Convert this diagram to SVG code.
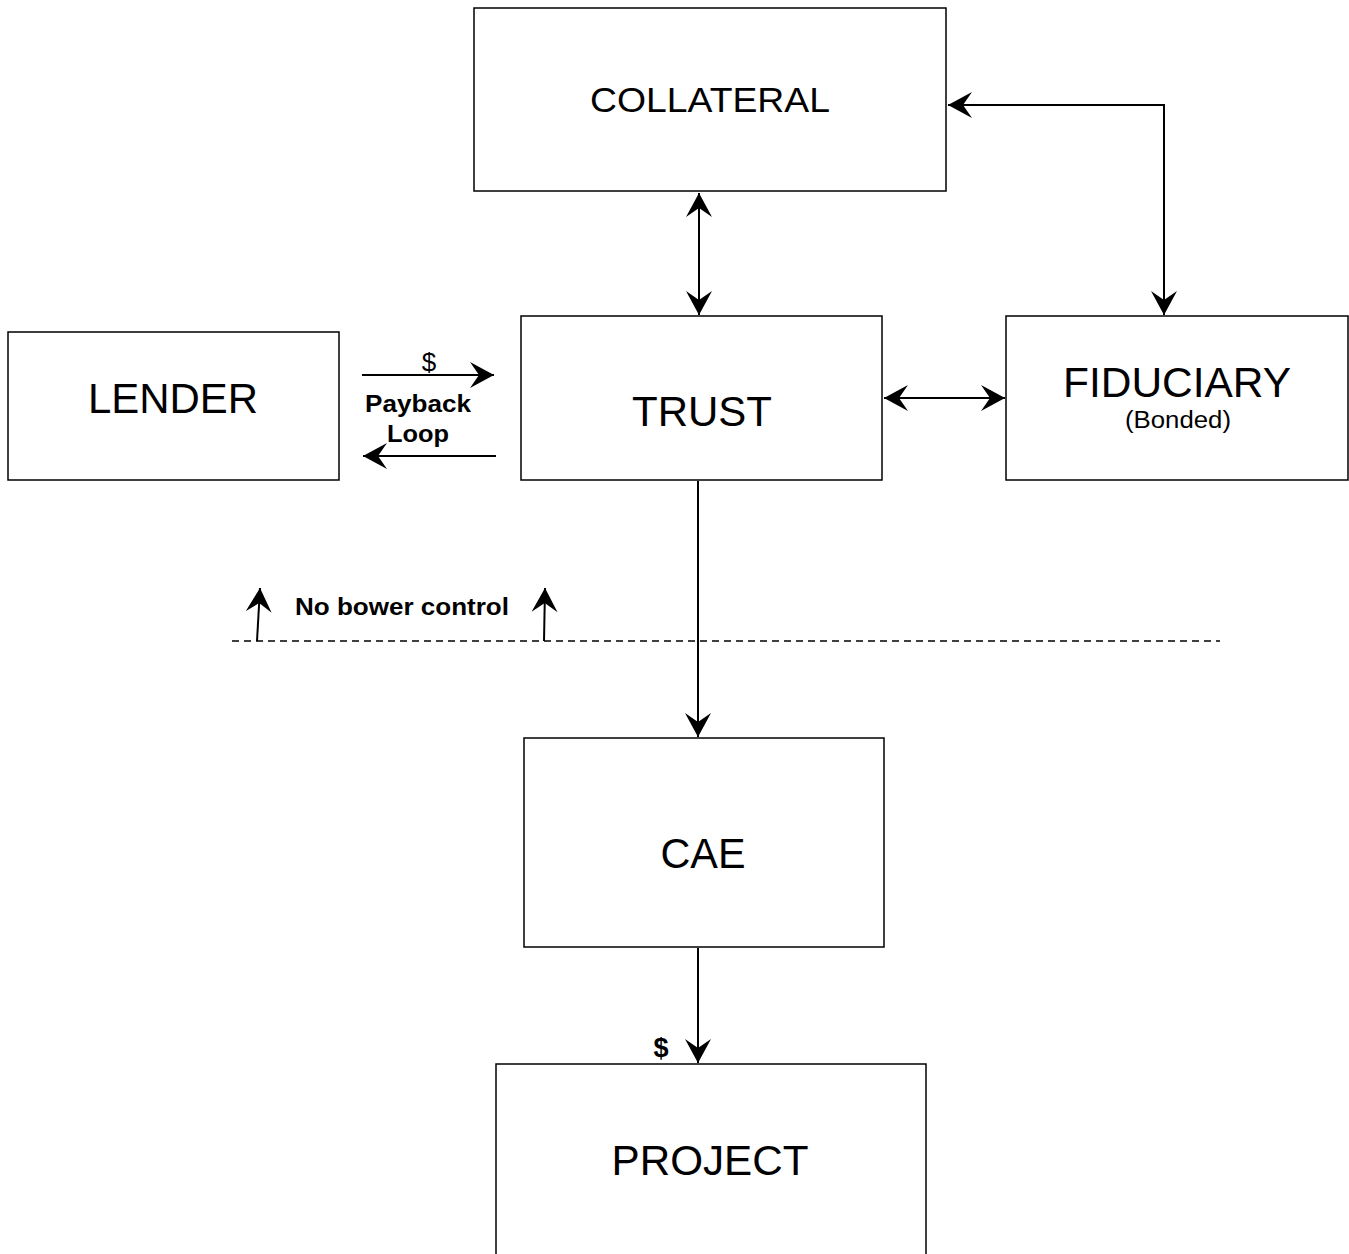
<svg xmlns="http://www.w3.org/2000/svg" width="1349" height="1254" viewBox="0 0 1349 1254">
<style>
.box{fill:#fff;stroke:#000;stroke-width:1.5}
.lbl{font-family:"Liberation Sans",Arial,sans-serif;fill:#000;text-anchor:middle}
.c{fill:none;stroke:#000;stroke-width:2}
.b{font-weight:bold}
</style>
<defs>
<marker id="ah" viewBox="0 0 24 26" refX="24" refY="13" markerWidth="24" markerHeight="26" markerUnits="userSpaceOnUse" orient="auto-start-reverse">
<path d="M0,0 L24,13 L0,26 L9,13 Z" fill="#000"/>
</marker>
</defs>
<rect width="1349" height="1254" fill="#fff"/>
<g id="collateral"><rect class="box" x="474" y="8" width="472" height="183"/><text class="lbl" x="710" y="112" font-size="35" textLength="240" lengthAdjust="spacingAndGlyphs">COLLATERAL</text></g>
<g id="trust"><rect class="box" x="521" y="316" width="361" height="164"/><text class="lbl" x="702" y="426" font-size="43" textLength="140" lengthAdjust="spacingAndGlyphs">TRUST</text></g>
<g id="lender"><rect class="box" x="8" y="332" width="331" height="148"/><text class="lbl" x="173" y="413" font-size="42" textLength="170" lengthAdjust="spacingAndGlyphs">LENDER</text></g>
<g id="fiduciary"><rect class="box" x="1006" y="316" width="342" height="164"/><text class="lbl" x="1177" y="397" font-size="42" textLength="228" lengthAdjust="spacingAndGlyphs">FIDUCIARY</text><text class="lbl" x="1178" y="428" font-size="23" textLength="106" lengthAdjust="spacingAndGlyphs">(Bonded)</text></g>
<g id="cae"><rect class="box" x="524" y="738" width="360" height="209"/><text class="lbl" x="703" y="868" font-size="42" textLength="85" lengthAdjust="spacingAndGlyphs">CAE</text></g>
<g id="project"><rect class="box" x="496" y="1064" width="430" height="200"/><text class="lbl" x="710" y="1175" font-size="42" textLength="197" lengthAdjust="spacingAndGlyphs">PROJECT</text></g>
<g id="connectors">
<line class="c" x1="699" y1="193" x2="699" y2="315" marker-start="url(#ah)" marker-end="url(#ah)"/>
<polyline class="c" points="948,105 1164,105 1164,315" marker-start="url(#ah)" marker-end="url(#ah)"/>
<line class="c" x1="884" y1="398" x2="1005" y2="398" marker-start="url(#ah)" marker-end="url(#ah)"/>
<line class="c" x1="698" y1="481" x2="698" y2="737" marker-end="url(#ah)"/>
<line class="c" x1="698" y1="948" x2="698" y2="1063" marker-end="url(#ah)"/>
<line class="c" x1="362" y1="375" x2="494" y2="375" stroke-width="1.5" marker-end="url(#ah)"/>
<line class="c" x1="496" y1="456" x2="363" y2="456" stroke-width="1.5" marker-end="url(#ah)"/>
<line x1="232" y1="641" x2="1220" y2="641" stroke="#000" stroke-width="1.3" stroke-dasharray="7,5"/>
<line class="c" x1="257" y1="641" x2="260" y2="588" stroke-width="1.5" marker-end="url(#ah)"/>
<line class="c" x1="544" y1="641" x2="545" y2="588" stroke-width="1.5" marker-end="url(#ah)"/>
</g>
<g id="labels">
<text class="lbl" x="429" y="371" font-size="26">$</text>
<text class="lbl b" x="418" y="412" font-size="24" textLength="106" lengthAdjust="spacingAndGlyphs">Payback</text>
<text class="lbl b" x="418" y="442" font-size="24" textLength="62" lengthAdjust="spacingAndGlyphs">Loop</text>
<text class="b" x="295" y="615" font-size="23" font-family="Liberation Sans, Arial, sans-serif" textLength="214" lengthAdjust="spacingAndGlyphs">No bower control</text>
<text class="lbl b" x="661" y="1057" font-size="27">$</text>
</g>
</svg>
